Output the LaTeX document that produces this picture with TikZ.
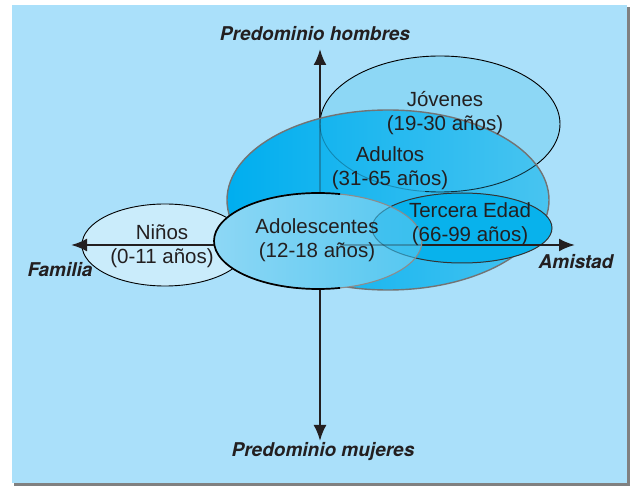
\documentclass[tikz,border=0pt]{standalone}
\usepackage{fontspec}
\setmainfont{Liberation Sans}
\newfontfamily\labfont{TeX Gyre Heros}
\usetikzlibrary{arrows.meta}
\definecolor{bgblue}{RGB}{170,224,250}
\definecolor{shadowgray}{RGB}{128,128,128}
\definecolor{ninosc}{RGB}{202,236,251}
\definecolor{jovc}{RGB}{141,215,245}
\definecolor{cyanA}{RGB}{0,174,239}
\definecolor{cyanM}{RGB}{10,180,238}
\definecolor{cyanB}{RGB}{72,196,240}
\definecolor{tercc}{RGB}{8,178,236}
\definecolor{adolc}{RGB}{141,215,245}
\definecolor{adolR}{RGB}{84,199,240}
\definecolor{txtc}{RGB}{35,31,32}
\tikzset{
  axisline/.style={line width=2.4pt, draw=txtc, {Latex[length=16pt,width=13pt]}-{Latex[length=16pt,width=13pt]}},
  plainaxis/.style={line width=2.4pt, draw=txtc},
  agelabel/.style={align=center, text=txtc, font=\fontsize{20.5}{24}\selectfont, inner sep=0pt},
  axislabel/.style={text=txtc, font=\labfont\bfseries\itshape\fontsize{19}{22}\selectfont, inner sep=0pt},
  outl/.style={draw=black, line width=0.9pt}
}
\begin{document}
\begin{tikzpicture}[x=1pt,y=-1pt]
\useasboundingbox (0,0) rectangle (630,486);
\fill[shadowgray] (14,7) rectangle (630,486);
\fill[bgblue] (12,5) rectangle (627,483);
% Ninos
\path[fill=ninosc, outl] (165,245) ellipse [x radius=83pt, y radius=41pt];
% Jovenes
\path[fill=jovc, outl] (440,124) ellipse [x radius=120pt, y radius=68pt];
% vertical axis
\coordinate (vtop) at (320,49);
\coordinate (vbot) at (320,441);
\draw[axisline] (vbot) -- (vtop);
% Adultos (opaque shading, then faint see-through details)
\shade[left color=cyanA, middle color=cyanM, right color=cyanB] (388,200) ellipse [x radius=161pt, y radius=90pt];
\begin{scope}
  \clip (388,200) ellipse [x radius=161pt, y radius=90pt];
  \draw[plainaxis, opacity=0.3] (vbot) -- (vtop);
  \begin{scope}
    \clip (300,0) rectangle (425,300);
    \draw[black, line width=0.9pt, opacity=0.25] (440,124) ellipse [x radius=120pt, y radius=68pt];
  \end{scope}
  \begin{scope}
    \clip (425,0) rectangle (600,300);
    \draw[black, line width=0.9pt, opacity=0.75] (440,124) ellipse [x radius=120pt, y radius=68pt];
  \end{scope}
\end{scope}
\draw[draw=black!55, line width=1.4pt] (388,200) ellipse [x radius=161pt, y radius=90pt];
% Tercera Edad
\path[fill=tercc, draw=black!80, line width=1pt] (462,228) ellipse [x radius=90pt, y radius=35pt];
% horizontal axis
\coordinate (hleft) at (71,245);
\coordinate (hright) at (575,245);
\draw[axisline] (hleft) -- (hright);
% Adolescentes (opaque left, see-through right)
\shade[left color=adolc, middle color=adolc, right color=adolR] (318,241) ellipse [x radius=104pt, y radius=48pt];
\begin{scope}
  \clip (318,241) ellipse [x radius=104pt, y radius=48pt];
  \fill[tercc, opacity=0.35] (462,228) ellipse [x radius=90pt, y radius=35pt];
  \draw[black, line width=1pt, opacity=0.3] (462,228) ellipse [x radius=90pt, y radius=35pt];
  \draw[plainaxis, opacity=0.3] (340,245) -- (hright);
\end{scope}
\draw[draw=black!45, line width=1.1pt] (318,241) ellipse [x radius=104pt, y radius=48pt];
\begin{scope}
  \clip (200,180) rectangle (340,300);
  \draw[draw=black, line width=1.7pt] (318,241) ellipse [x radius=104pt, y radius=48pt];
\end{scope}
% labels
\node[agelabel] (jov) at (445,113) {Jóvenes\\(19-30 años)};
\node[agelabel] (adu) at (390,168) {Adultos\\(31-65 años)};
\node[agelabel] (ado) at (317,240) {Adolescentes\\(12-18 años)};
\node[agelabel] (ter) at (470,224) {Tercera Edad\\(66-99 años)};
\node[agelabel] (nin) at (162,246) {Niños\\(0-11 años)};
\node[axislabel] (ph) at (315,34) {Predominio hombres};
\node[axislabel] (pm) at (323,452) {Predominio mujeres};
\node[axislabel] (fam) at (60,270) {Familia};
\node[axislabel] (ami) at (576,262) {Amistad};
\end{tikzpicture}
\end{document}
